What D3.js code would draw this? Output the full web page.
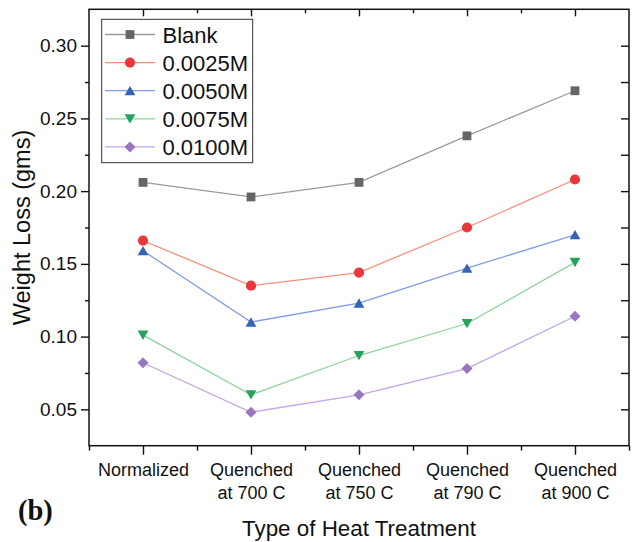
<!DOCTYPE html>
<html>
<head>
<meta charset="utf-8">
<script src="https://cdn.jsdelivr.net/npm/d3@7"></script>
<style>
  html, body { margin: 0; padding: 0; background: #fff; }
  svg { display: block; }
  text { font-family: "Liberation Sans", Arial, sans-serif; fill: #111; }
</style>
</head>
<body>
<svg id="chart" width="634" height="542"></svg>
<script>
// Heat treatment categories (two-line tick labels)
const categories = [
  ["Normalized"],
  ["Quenched", "at 700 C"],
  ["Quenched", "at 750 C"],
  ["Quenched", "at 790 C"],
  ["Quenched", "at 900 C"]
];

// Weight loss (gms) per inhibitor concentration
const seriesNames = ["Blank", "0.0025M", "0.0050M", "0.0075M", "0.0100M"];
const blank   = [0.206, 0.196, 0.206, 0.238, 0.269];
const m0025   = [0.166, 0.135, 0.144, 0.175, 0.208];
const m0050   = [0.159, 0.110, 0.123, 0.147, 0.170];
const m0075   = [0.101, 0.060, 0.087, 0.109, 0.151];
const m0100   = [0.082, 0.048, 0.060, 0.078, 0.114];

// Axis ticks
const yMajorTicks = [0.05, 0.10, 0.15, 0.20, 0.25, 0.30];
const yMinorTicks = [0.075, 0.125, 0.175, 0.225, 0.275];
const yTickLabels = ["0.05", "0.10", "0.15", "0.20", "0.25", "0.30"];

const seriesValues = [blank, m0025, m0050, m0075, m0100];
const markerColors = ["#666666", "#e8383b", "#3563b6", "#24a35b", "#9a76c2"];
const lineColors   = ["#9a9a9a", "#f7907d", "#7f9de0", "#8fd49d", "#c5a6e0"];

// Marker shapes, each centred on its bounding box
const shapes = [
  { draw(c, s) { const h = 4.4; c.rect(-h, -h, 2 * h, 2 * h); } },
  { draw(c, s) { c.moveTo(5.1, 0); c.arc(0, 0, 5.1, 0, 2 * Math.PI); } },
  { draw(c, s) { c.moveTo(0, -4.8); c.lineTo(5.4, 4.6); c.lineTo(-5.4, 4.6); c.closePath(); } },
  { draw(c, s) { c.moveTo(0, 4.8); c.lineTo(5.4, -4.6); c.lineTo(-5.4, -4.6); c.closePath(); } },
  { draw(c, s) { c.moveTo(0, -5.5); c.lineTo(5.5, 0); c.lineTo(0, 5.5); c.lineTo(-5.5, 0); c.closePath(); } }
];

const svg = d3.select("#chart");
const plotL = 89, plotR = 629, plotT = 9.3, plotB = 445.7;

const x = d3.scaleLinear().domain([0.5, 5.5]).range([plotL, plotR]);
const y = d3.scaleLinear().domain([0.025, 0.325]).range([plotB, plotT]);

// Frame
svg.append("rect")
  .attr("x", plotL).attr("y", plotT)
  .attr("width", plotR - plotL).attr("height", plotB - plotT)
  .attr("fill", "none").attr("stroke", "#111").attr("stroke-width", 1.5);

function styleAxis(g) {
  g.select(".domain").remove();
  g.selectAll(".tick line").attr("stroke", "#111").attr("stroke-width", 1.4);
}

// Left axis: labelled majors and short minors (outward)
svg.append("g").attr("transform", `translate(${plotL},0)`)
  .call(d3.axisLeft(y).tickValues(yMajorTicks).tickSize(8).tickPadding(4)
    .tickFormat((d, i) => yTickLabels[i]))
  .call(styleAxis)
  .call(g => g.selectAll("text").attr("font-size", 19).attr("fill", "#111")
    .style("font-family", "'Liberation Sans', Arial, sans-serif"));
svg.append("g").attr("transform", `translate(${plotL},0)`)
  .call(d3.axisLeft(y).tickValues(yMinorTicks).tickSize(4).tickFormat(""))
  .call(styleAxis);

// Right axis: inward ticks
svg.append("g").attr("transform", `translate(${plotR},0)`)
  .call(d3.axisLeft(y).tickValues(yMajorTicks.concat(yMinorTicks)).tickSize(8).tickFormat(""))
  .call(styleAxis);

// Bottom axis: category ticks and half-step minors (outward)
const xMajor = categories.map((d, i) => i + 1);
const xMinor = d3.range(0.5, 5.6, 1);
const xAxisG = svg.append("g").attr("transform", `translate(0,${plotB})`)
  .call(d3.axisBottom(x).tickValues(xMajor).tickSize(9).tickFormat(""))
  .call(styleAxis);
svg.append("g").attr("transform", `translate(0,${plotB})`)
  .call(d3.axisBottom(x).tickValues(xMinor).tickSize(5).tickFormat(""))
  .call(styleAxis);

// Top axis: inward ticks
svg.append("g").attr("transform", `translate(0,${plotT})`)
  .call(d3.axisBottom(x).tickValues(xMajor).tickSize(7).tickFormat(""))
  .call(styleAxis);
svg.append("g").attr("transform", `translate(0,${plotT})`)
  .call(d3.axisBottom(x).tickValues(d3.range(1.5, 5, 1)).tickSize(4).tickFormat(""))
  .call(styleAxis);

// Category labels
xAxisG.selectAll(".tick").each(function (d, i) {
  const t = d3.select(this).append("text")
    .attr("text-anchor", "middle").attr("font-size", 18).attr("fill", "#111");
  categories[i].forEach((txt, j) => {
    t.append("tspan").attr("x", 0).attr("y", 30.5 + j * 23).text(txt);
  });
});

// Axis titles
svg.append("text")
  .attr("x", (plotL + plotR) / 2).attr("y", 536)
  .attr("text-anchor", "middle").attr("font-size", 22.4)
  .text("Type of Heat Treatment");
svg.append("text")
  .attr("transform", `translate(30,${(plotT + plotB) / 2}) rotate(-90)`)
  .attr("text-anchor", "middle").attr("font-size", 23.5)
  .text("Weight Loss (gms)");

// Panel tag
svg.append("text")
  .attr("x", 18).attr("y", 520)
  .attr("font-size", 28.5).attr("font-weight", "bold")
  .style("font-family", "'Liberation Serif', 'Times New Roman', serif")
  .text("(b)");

// Series lines and markers
const lineGen = d3.line().x((d, i) => x(i + 1)).y(d => y(d));
seriesValues.forEach((vals, s) => {
  svg.append("path").datum(vals)
    .attr("d", lineGen).attr("fill", "none")
    .attr("stroke", lineColors[s]).attr("stroke-width", 1.3);
  svg.append("g").selectAll("path").data(vals).join("path")
    .attr("transform", (d, i) => `translate(${x(i + 1)},${y(d)})`)
    .attr("d", d3.symbol().type(shapes[s])())
    .attr("fill", markerColors[s]);
});

// Legend
const lg = svg.append("g");
lg.append("rect")
  .attr("x", 101.7).attr("y", 19.3).attr("width", 151).attr("height", 143.4)
  .attr("fill", "#fff").attr("stroke", "#333").attr("stroke-width", 1);
seriesNames.forEach((name, s) => {
  const cy = 34.5 + s * 28.1;
  lg.append("line").attr("x1", 105).attr("x2", 155).attr("y1", cy).attr("y2", cy)
    .attr("stroke", lineColors[s]).attr("stroke-width", 1.3);
  lg.append("path").attr("transform", `translate(130,${cy})`)
    .attr("d", d3.symbol().type(shapes[s])()).attr("fill", markerColors[s]);
  lg.append("text").attr("x", 162.5).attr("y", cy + 8)
    .attr("font-size", 22).text(name);
});
</script>
</body>
</html>
